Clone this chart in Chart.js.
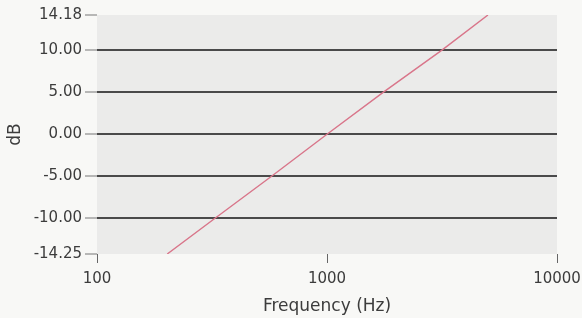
<!DOCTYPE html>
<html>
<head>
<meta charset="utf-8">
<script src="https://cdn.jsdelivr.net/npm/chart.js@4"></script>
<style>
  html, body { margin: 0; padding: 0; background: #f8f8f6; }
  #wrap { width: 582px; height: 318px; }
</style>
</head>
<body>
<div id="wrap"><canvas id="bodeChart"></canvas></div>
<script>
// values
const freqHz = [202, 326, 574, 1000, 1760, 3160, 5010];
const gainDb = [-14.25, -10, -5, 0, 5, 10, 14.18];
const yTicks = [-14.25, -10, -5, 0, 5, 10, 14.18];
const xTicks = [100, 1000, 10000];

const points = freqHz.map((f, i) => ({ x: f, y: gainDb[i] }));

// grey plot background
const plotBg = {
    id: 'plotBg',
    beforeDraw(chart) {
        const { ctx, chartArea: a } = chart;
        ctx.save();
        ctx.fillStyle = '#ebebea';
        ctx.fillRect(a.left, a.top, a.right - a.left, a.bottom - a.top);
        ctx.restore();
    }
};

const tickFont = { family: 'DejaVu Sans', size: 15 };
const titleFont = { family: 'DejaVu Sans', size: 17 };

const ctx = document.getElementById('bodeChart').getContext('2d');
new Chart(ctx, {
    type: 'scatter',
    data: {
        datasets: [{
            data: points,
            showLine: true,
            borderColor: '#d9758a',
            borderWidth: 1.4,
            pointRadius: 0,
            fill: false
        }]
    },
    options: {
        responsive: true,
        maintainAspectRatio: false,
        animation: false,
        layout: { padding: { top: 15, right: 25, left: 5, bottom: 1 } },
        plugins: { legend: { display: false }, tooltip: { enabled: false } },
        scales: {
            x: {
                type: 'logarithmic',
                min: 100,
                max: 10000,
                afterBuildTicks: s => { s.ticks = xTicks.map(v => ({ value: v })); },
                afterFit: s => { s.height = 63; s.paddingLeft = 0; s.paddingRight = 0; },
                border: { display: false },
                grid: {
                    drawOnChartArea: false,
                    tickLength: 9,
                    tickColor: '#666'
                },
                ticks: {
                    color: '#3c3c3c',
                    font: tickFont,
                    padding: 7,
                    maxRotation: 0,
                    callback: v => String(v)
                },
                title: {
                    display: true,
                    text: 'Frequency (Hz)',
                    color: '#3c3c3c',
                    font: titleFont,
                    padding: { top: 2, bottom: 0 }
                }
            },
            y: {
                min: -14.25,
                max: 14.18,
                afterBuildTicks: s => { s.ticks = yTicks.map(v => ({ value: v })); },
                afterFit: s => { s.width = 92; s.paddingTop = 0; s.paddingBottom = 0; },
                border: { display: false },
                grid: {
                    color: c => (Math.abs(c.tick.value) > 12 ? 'rgba(0,0,0,0)' : '#4a4a4a'),
                    lineWidth: 2,
                    tickLength: 12,
                    tickColor: '#777',
                    tickWidth: 1
                },
                ticks: {
                    color: '#3c3c3c',
                    font: tickFont,
                    padding: 3,
                    callback: v => Number(v).toFixed(2)
                },
                title: {
                    display: true,
                    text: 'dB',
                    color: '#3c3c3c',
                    font: titleFont,
                    padding: { top: 0, bottom: 2 }
                }
            }
        }
    },
    plugins: [plotBg]
});
</script>
</body>
</html>
